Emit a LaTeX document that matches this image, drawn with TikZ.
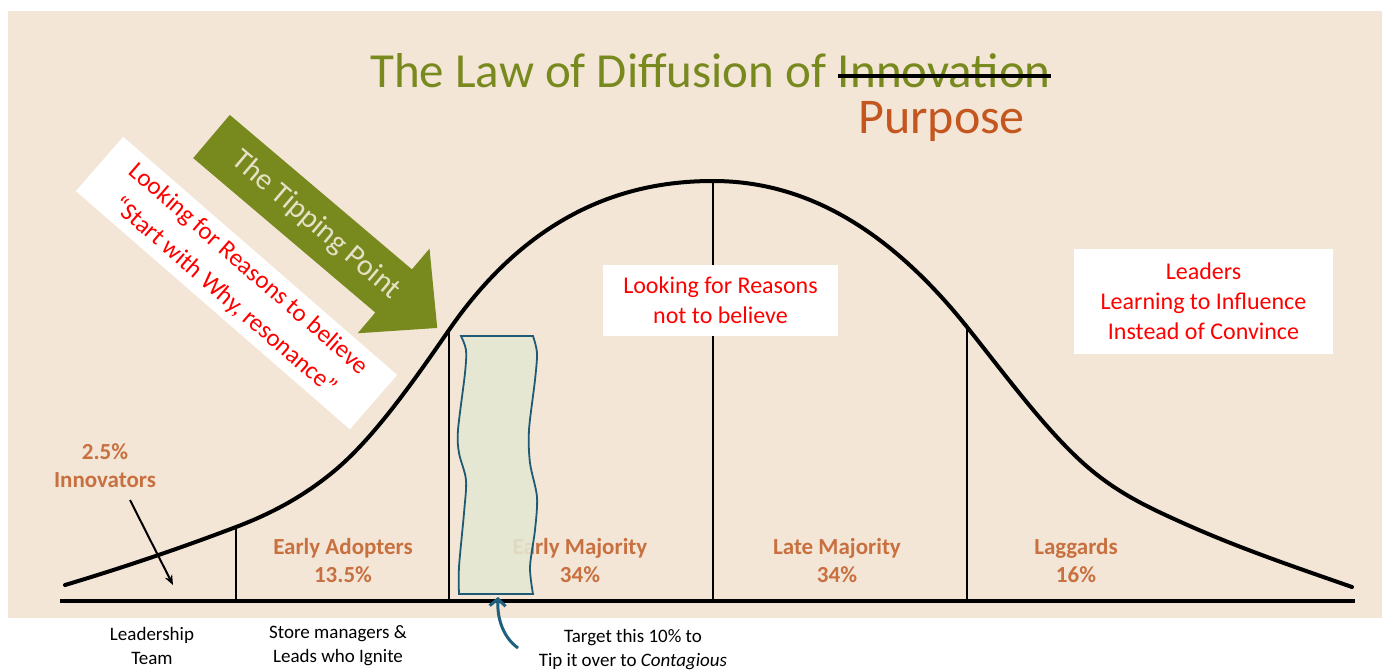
\documentclass[tikz,border=0pt]{standalone}
\usepackage{fontspec}
\setmainfont{Carlito}
\usetikzlibrary{arrows.meta}
\definecolor{bgc}{HTML}{F3E6D7}
\definecolor{olivec}{HTML}{78891E}
\definecolor{purpc}{HTML}{C4571F}
\definecolor{labc}{HTML}{C8703F}
\definecolor{redc}{HTML}{FF0000}
\definecolor{wavefill}{HTML}{E4E8D2}
\definecolor{wavedraw}{HTML}{1E5A73}
\definecolor{tealc}{HTML}{1F6080}
\definecolor{tiptxt}{HTML}{E6E1C6}
\tikzset{
  lab/.style={font=\fontsize{23}{28}\selectfont\bfseries, text=labc, align=center, inner sep=0pt},
  note/.style={font=\fontsize{19}{24}\selectfont, align=center, inner sep=0pt},
  redt/.style={font=\fontsize{24}{30}\selectfont, text=redc, align=center},
  wbox/.style={fill=white, inner sep=0pt},
  curveline/.style={line width=4pt, line join=round, line cap=round},
  divline/.style={line width=2.6pt},
}
\begin{document}
\begin{tikzpicture}[x=1pt,y=-1pt]
\useasboundingbox (0,0) rectangle (1382,670);
\fill[white] (0,0) rectangle (1382,670);
\fill[bgc] (8,11) rectangle (1382,618);

% title
\node[anchor=base west, inner sep=0pt, text=olivec, font=\fontsize{49}{56}\selectfont] (t1) at (370,87) {The Law of Diffusion of};
\node[anchor=base west, inner sep=0pt, text=olivec, font=\fontsize{49}{56}\selectfont] (tinnov) at ([xshift=11pt]t1.base east) {Innovation};
\draw[line width=4pt] ([yshift=11pt]tinnov.base west) -- ([yshift=11pt]tinnov.base east);
\node[anchor=base west, inner sep=0pt, text=purpc, font=\fontsize{50}{56}\selectfont] (purp) at (858,133) {Purpose};

% curve
\coordinate (p0) at (65,585);
\coordinate (c1) at (236,527);
\coordinate (p2) at (333,472);
\coordinate (c2) at (449,330);
\coordinate (c3) at (713,181);
\coordinate (c4) at (967,327);
\coordinate (p8) at (1083,463);
\coordinate (p9) at (1183,523);
\coordinate (p10) at (1352,587);
\coordinate (bl) at (60,601);
\coordinate (br) at (1355,601);
\draw[curveline] (p0)
  .. controls (122,567.9) and (179,548.7) .. (c1)
  .. controls (268.3,514.7) and (300.7,498.5) .. (p2)
  .. controls (371.7,440.3) and (410.3,386.1) .. (c2)
  .. controls (537,202.4) and (640,181) .. (c3)
  .. controls (797.7,181) and (882.3,221.1) .. (c4)
  .. controls (1005.7,375.4) and (1044.3,428.2) .. (p8)
  .. controls (1116.3,493) and (1149.7,508) .. (p9)
  .. controls (1239.3,548.3) and (1295.7,567.3) .. (p10);
\draw[divline] (c1) -- (c1 |- bl);
\draw[divline] (c2) -- (c2 |- bl);
\draw[divline] (c3) -- (c3 |- bl);
\draw[divline] (c4) -- (c4 |- bl);
\draw[line width=4pt] (bl) -- (br);

% orange labels
\node[lab] (innov) at (105,466) {2.5\%\\Innovators};
\node[lab] (ea) at (343,561) {Early Adopters\\13.5\%};
\node[lab] (em) at (580,561) {Early Majority\\34\%};
\node[lab] (lm) at (837,561) {Late Majority\\34\%};
\node[lab] (lg) at (1076,561) {Laggards\\16\%};

\coordinate (ia) at (130,500);
\coordinate (ib) at (173,585);
\draw[line width=2pt, -{Stealth[length=10pt,width=8pt]}] (ia) -- (ib);

% wavy target box
\coordinate (wb) at (498,597);
\filldraw[fill=wavefill, fill opacity=0.88, draw=wavedraw, line width=1.8pt]
  (461,336) -- (533,336)
  -- plot[smooth] coordinates {(533,336) (537,353) (535,380) (529,430) (530,463) (537,497) (535,530) (530,567) (533,594)}
  -- (459,594)
  -- plot[smooth] coordinates {(459,594) (459,567) (464,513) (466,480) (459,453) (458,430) (465,373) (466,350) (461,336)}
  -- cycle;
\coordinate (tg) at (518,648);
\draw[tealc, line width=3pt, -{Straight Barb[length=7pt,width=16pt]}] (tg) .. controls (504,638) and (497,620) .. (wb);

% bottom notes
\node[note] (lead) at (152,646) {Leadership\\Team};
\node[note] (store) at (338,646) {Store managers \&\\Leads who Ignite};
\node[note] (target) at (633,650) {Target this 10\% to\\Tip it over to \textit{Contagious}};

% red boxes
\node[wbox, redt, minimum width=235pt, minimum height=71pt] (notbel) at (720.5,300.5) {Looking for Reasons\\not to believe};
\node[wbox, redt, minimum width=259pt, minimum height=105pt] (leaders) at (1203.5,301) {Leaders\\Learning to Influence\\Instead of Convince};
\node[wbox, redt, font=\fontsize{25}{30}\selectfont, rotate=-41, minimum width=363pt, minimum height=72pt] (why) at (236.5,283) {Looking for Reasons to believe\\[6pt]“Start with Why, resonance”};

% tipping point arrow
\begin{scope}[shift={(211.5,136.5)}, rotate=-40.3]
  \fill[olivec] (0,-28.3) -- (238.8,-28.3) -- (238.8,-55.5) -- (296,0) -- (238.8,55.5) -- (238.8,28.3) -- (0,28.3) -- cycle;
  \node[rotate=-40.3, text=tiptxt, font=\fontsize{30}{34}\selectfont, inner sep=0pt] (tip) at (137,0) {The Tipping Point};
\end{scope}
\end{tikzpicture}
\end{document}
